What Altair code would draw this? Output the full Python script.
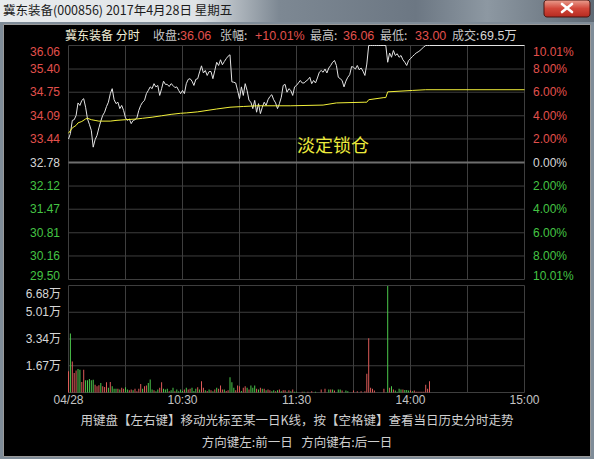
import altair as alt
import pandas as pd

# ---------------- session data: 冀东装备 (000856), 2017-04-28 ----------------
prev_close = 32.78

# last price, one value per trading minute from 09:30 (minute 0) to 14:10 (minute 190)
price = [
    33.44, 33.59, 33.96, 33.98, 34.10, 34.45, 34.38, 34.52, 34.57, 34.33,
    34.00, 33.85, 33.68, 33.21, 33.42, 33.54, 33.75, 33.94, 34.10, 34.19,
    34.35, 34.47, 34.71, 34.85, 34.54, 34.43, 34.47, 34.29, 34.38, 34.24,
    34.03, 33.96, 34.00, 33.87, 33.96, 33.98, 34.03, 34.24, 34.38, 34.47,
    34.52, 34.71, 34.80, 34.90, 34.85, 34.99, 34.90, 34.94, 34.66, 34.85,
    35.06, 34.97, 34.97, 34.91, 34.99, 34.94, 34.88, 34.90, 34.80, 34.71,
    34.80, 34.71, 34.99, 35.11, 35.13, 35.06, 34.94, 35.11, 35.13, 35.32,
    35.49, 35.29, 35.36, 35.22, 35.33, 35.33, 35.13, 35.36, 35.59, 35.50,
    35.66, 35.52, 35.61, 35.69, 35.76, 35.80, 35.04, 35.03, 35.01, 34.80,
    34.57, 34.90, 34.66, 34.99, 34.80, 34.52, 34.47, 34.29, 34.52, 34.19,
    34.43, 34.15, 34.33, 34.47, 34.38, 34.54, 34.63, 34.68, 34.54, 34.45,
    34.29, 34.43, 34.61, 34.94, 34.97, 34.75, 34.85, 34.80, 34.66, 34.90,
    34.94, 35.01, 35.08, 35.01, 35.01, 35.06, 35.10, 35.17, 34.99, 35.08,
    35.01, 35.15, 35.31, 35.36, 35.31, 35.40, 35.29, 35.43, 35.50, 35.59,
    35.64, 35.50, 35.17, 35.13, 35.08, 34.90, 35.06, 35.17, 35.24, 35.47,
    35.45, 35.40, 35.50, 35.38, 35.43, 35.34, 35.22, 35.54, 36.06, 36.06,
    36.06, 36.06, 36.06, 36.06, 36.06, 36.06, 36.06, 36.06, 35.59, 35.85,
    35.73, 35.92, 35.78, 35.83, 35.73, 35.78, 35.66, 35.59, 35.50, 35.64,
    35.69, 35.75, 35.80, 35.85, 35.88, 35.92, 35.97, 36.02, 36.06, 36.06,
    36.06,
]
close_minute = 240
close_price = 36.06

# volume-weighted average price (knots of the yellow line)
avg_minute = [0, 2, 4, 5, 7, 9, 10, 12, 14, 16, 22, 25, 30, 36, 39, 44, 49, 54,
              59, 62, 68, 78, 85, 92, 99, 117, 134, 141, 156, 157, 158, 166,
              167, 168, 181, 188, 240]
avg_price = [33.60, 33.75, 33.82, 33.89, 33.93, 34.00, 34.02, 33.98, 33.96,
             33.94, 33.94, 33.96, 33.98, 34.00, 34.02, 34.05, 34.09, 34.13,
             34.16, 34.17, 34.20, 34.28, 34.33, 34.35, 34.37, 34.37, 34.39,
             34.45, 34.47, 34.47, 34.54, 34.60, 34.60, 34.76, 34.80, 34.82,
             34.82]

# volume per minute, in 万 shares; side: r = uptick (red), g = downtick (green)
volume = [
    1.32, 3.69, 1.94, 1.22, 1.38, 1.46, 1.42, 0.66, 1.42, 0.76,
    0.76, 0.84, 0.76, 0.80, 0.49, 0.39, 0.45, 0.60, 0.39, 0.35,
    0.64, 0.29, 0.66, 0.39, 0.23, 0.23, 0.23, 0.19, 0.29, 0.23,
    0.33, 0.19, 0.14, 0.19, 0.14, 0.23, 0.08, 0.23, 0.53, 0.23,
    0.39, 0.43, 0.60, 0.81, 0.19, 0.14, 0.08, 0.19, 0.29, 0.64,
    0.23, 0.19, 0.23, 0.08, 0.14, 0.29, 0.08, 0.19, 0.08, 0.19,
    0.10, 0.19, 0.29, 0.19, 0.23, 0.29, 0.10, 0.23, 0.33, 0.19,
    0.70, 0.29, 0.14, 0.10, 0.19, 0.14, 0.08, 0.19, 0.29, 0.23,
    0.43, 0.19, 0.19, 0.10, 0.14, 0.95, 0.64, 0.29, 0.14, 0.43,
    0.39, 0.10, 0.29, 0.39, 0.29, 0.19, 0.43, 0.29, 0.43, 0.23,
    0.19, 0.29, 0.23, 0.23, 0.14, 0.19, 0.14, 0.08, 0.14, 0.08,
    0.14, 0.19, 0.08, 0.14, 0.14, 0.05, 0.14, 0.08, 0.19, 0.05,
    0.04, 0.00, 0.00, 0.04, 0.04, 0.00, 0.04, 0.00, 0.08, 0.00,
    0.04, 0.00, 0.00, 0.19, 0.00, 0.23, 0.00, 0.19, 0.19, 0.19,
    0.12, 0.00, 0.19, 0.19, 0.12, 0.00, 0.12, 0.08, 0.00, 0.00,
    0.12, 0.00, 0.08, 0.00, 0.08, 0.00, 0.08, 1.17, 3.38, 0.29,
    0.23, 0.12, 0.00, 0.00, 0.00, 0.00, 0.23, 0.00, 6.65, 0.29,
    0.39, 0.19, 0.12, 0.04, 0.23, 0.19, 0.19, 0.15, 0.15, 0.12,
    0.12, 0.08, 0.12, 0.04, 0.04, 0.04, 0.04, 0.04, 0.49, 0.23,
    0.70,
]
volume_side = (
    "rgrrrggrrg" "ggggrrrgrr" "rgrgggrgrr" "ggrrgrrrrg" "rrgggrggrr"
    "gggrggrggg" "grgrrgggrg" "rrgrgrgrgr" "rrgrrgggrr" "rgrrgrgggr"
    "grgrgrrggr" "grgrrgrgrg" "gggrggrrrr" "gggrrrrgrg" "rrggrrgggg"
    "rrrrrrrrrr" "rrrrrrrrgr" "grggggrggg" "rgrrrrrrrr" "r"
)

# axis ticks and their labels
price_ticks = [36.06, 35.40, 34.75, 34.09, 33.44, 32.78, 32.12, 31.47, 30.81, 30.16, 29.50]
pct_labels = ["10.01%", "8.00%", "6.00%", "4.00%", "2.00%", "0.00%",
              "2.00%", "4.00%", "6.00%", "8.00%", "10.01%"]
vol_ticks = [6.68, 5.01, 3.34, 1.67]
vol_labels = ["6.68万", "5.01万", "3.34万", "1.67万"]
grid_minutes = [0, 30, 60, 90, 120, 150, 180, 210, 240]
time_ticks = [0, 60, 120, 180, 240]
time_labels = ["04/28", "10:30", "11:30", "14:00", "15:00"]

window_title = "冀东装备(000856) 2017年4月28日 星期五"
header = [("冀东装备 分时", "name"), ("收盘:", "key"), ("36.06", "up"),
          ("张幅:", "key"), ("+10.01%", "up"), ("最高:", "key"), ("36.06", "up"),
          ("最低:", "key"), ("33.00", "up"), ("成交:", "key"), ("69.5万", "plain")]
note = "淡定锁仓"
hint_1 = "用键盘【左右键】移动光标至某一日K线，按【空格键】查看当日历史分时走势"
hint_2 = "方向键左:前一日\u00a0\u00a0\u00a0方向键右:后一日"

# ---------------- styling ----------------
RED = "#e2504c"
GREEN = "#44c444"
WHITE = "#d6d6d6"
GRID = "#3e3e3e"
NUM_FONT = "Arial, 'Liberation Sans', 'Noto Sans CJK SC', sans-serif"
CJK_FONT = "'Noto Sans CJK SC', 'Liberation Sans', sans-serif"
TEXT_COLORS = {"name": "#f2efd6", "key": "#c6c6c6", "up": RED, "plain": WHITE}

W, H = 594, 459
xs = alt.Scale(domain=[0, 240], range=[63.5, 529.5], nice=False, zero=False)
ps = alt.Scale(domain=[29.50, 36.06], range=[279.5, 45.5], nice=False, zero=False)
vs = alt.Scale(domain=[0, 6.68], range=[392.5, 285.5], nice=False, zero=False)

one = pd.DataFrame({"k": [0]})


def side_color(v):
    if v > prev_close + 1e-9:
        return RED
    if v < prev_close - 1e-9:
        return GREEN
    return WHITE


def box(x0, x1, y0, y1, **mark):
    return alt.Chart(one).mark_rect(**mark).encode(
        x=alt.value(x0), x2=alt.value(x1), y=alt.value(y0), y2=alt.value(y1))


def text_at(s, x, y, color, size=12, align="left", font=NUM_FONT, **kw):
    return alt.Chart(one).mark_text(
        text=s, align=align, baseline="middle", fontSize=size, font=font,
        color=color, **kw).encode(x=alt.value(x), y=alt.value(y))


layers = []

# ---- window frame ----
layers.append(box(0, W, 0, 22, color=alt.LinearGradient(
    gradient="linear", x1=0, x2=1, y1=0, y2=0,
    stops=[alt.GradientStop(color="#e9ecee", offset=0),
           alt.GradientStop(color="#dfe3e6", offset=0.33),
           alt.GradientStop(color="#7d8893", offset=0.47),
           alt.GradientStop(color="#6c7783", offset=0.7),
           alt.GradientStop(color="#8d98a2", offset=0.82),
           alt.GradientStop(color="#5f6a75", offset=1)])))
layers.append(box(544, 590, 0, 17, cornerRadius=3, stroke="#4a1510", strokeWidth=1,
                  color=alt.LinearGradient(
                      gradient="linear", x1=0, x2=0, y1=0, y2=1,
                      stops=[alt.GradientStop(color="#eaa090", offset=0),
                             alt.GradientStop(color="#d2473a", offset=0.5),
                             alt.GradientStop(color="#b52a20", offset=1)])))
for (a, b, c, d) in [(562, 572, 4, 12), (562, 572, 12, 4)]:
    layers.append(alt.Chart(one).mark_rule(color="white", strokeWidth=2.6, strokeCap="round")
                  .encode(x=alt.value(a), x2=alt.value(b), y=alt.value(c), y2=alt.value(d)))
layers.append(text_at(window_title, 3, 11, "#1c1c1c", size=12.5, font=CJK_FONT))
layers.append(box(3.5, 590.5, 24.5, 456.5, color="#000000", stroke="#9a9a9a", strokeWidth=1))

# ---- grid ----
pdf = pd.DataFrame({"v": price_ticks})
layers.append(alt.Chart(pdf).mark_rule(color=GRID, strokeWidth=1).encode(
    y=alt.Y("v:Q", scale=ps, axis=None),
    x=alt.X(datum=0, scale=xs, axis=None), x2=alt.X2(datum=240)))
gdf = pd.DataFrame({"m": grid_minutes})
layers.append(alt.Chart(gdf).mark_rule(color=GRID, strokeWidth=1).encode(
    x=alt.X("m:Q", scale=xs, axis=None),
    y=alt.Y(datum=price_ticks[0], scale=ps, axis=None), y2=alt.Y2(datum=price_ticks[-1])))
layers.append(alt.Chart(pd.DataFrame({"v": [prev_close]})).mark_rule(
    color="#6e6e6e", strokeWidth=2).encode(
    y=alt.Y("v:Q", scale=ps, axis=None),
    x=alt.X(datum=0, scale=xs, axis=None), x2=alt.X2(datum=240)))

vdf_grid = pd.DataFrame({"v": [0] + vol_ticks})
layers.append(alt.Chart(vdf_grid).mark_rule(color=GRID, strokeWidth=1).encode(
    y=alt.Y("v:Q", scale=vs, axis=None),
    x=alt.X(datum=0, scale=xs, axis=None), x2=alt.X2(datum=240)))
layers.append(alt.Chart(gdf).mark_rule(color=GRID, strokeWidth=1).encode(
    x=alt.X("m:Q", scale=xs, axis=None),
    y=alt.Y(datum=0, scale=vs, axis=None), y2=alt.Y2(datum=vol_ticks[0])))

# ---- volume bars ----
vol_df = pd.DataFrame({"m": list(range(len(volume))), "v": volume,
                       "c": ["#dc5a58" if s == "r" else "#4cc84c" for s in volume_side]})
layers.append(alt.Chart(vol_df).mark_bar(size=1).encode(
    x=alt.X("m:Q", scale=xs, axis=None),
    y=alt.Y("v:Q", scale=vs, axis=None),
    color=alt.Color("c:N", scale=None)))

# ---- price and average lines ----
price_df = pd.DataFrame({"m": list(range(len(price))) + [close_minute],
                         "p": price + [close_price]})
layers.append(alt.Chart(price_df).mark_line(color="#e4e4e4", strokeWidth=1).encode(
    x=alt.X("m:Q", scale=xs, axis=None), y=alt.Y("p:Q", scale=ps, axis=None)))
avg_df = pd.DataFrame({"m": avg_minute, "p": avg_price})
layers.append(alt.Chart(avg_df).mark_line(color="#f2f03a", strokeWidth=1).encode(
    x=alt.X("m:Q", scale=xs, axis=None), y=alt.Y("p:Q", scale=ps, axis=None)))

# ---- price axis labels (left: price, right: change) ----
lab_df = pd.DataFrame({
    "v": price_ticks,
    "t": [f"{v:.2f}" for v in price_ticks],
    "pct": pct_labels,
    "c": [side_color(v) for v in price_ticks],
    "i": list(range(len(price_ticks))),
})
last = len(price_ticks) - 1
for cond, dy in [(f"datum.i == 0", 6), (f"datum.i > 0 && datum.i < {last}", 0),
                 (f"datum.i == {last}", -4)]:
    base = alt.Chart(lab_df).transform_filter(cond)
    layers.append(base.mark_text(align="right", baseline="middle", fontSize=12,
                                 font=NUM_FONT, dy=dy).encode(
        x=alt.value(60), y=alt.Y("v:Q", scale=ps, axis=None),
        text="t:N", color=alt.Color("c:N", scale=None)))
    layers.append(base.mark_text(align="left", baseline="middle", fontSize=12,
                                 font=NUM_FONT, dy=dy).encode(
        x=alt.value(533), y=alt.Y("v:Q", scale=ps, axis=None),
        text="pct:N", color=alt.Color("c:N", scale=None)))

# ---- volume axis labels ----
vlab = pd.DataFrame({"v": vol_ticks, "t": vol_labels, "i": list(range(len(vol_ticks)))})
for cond, dy in [("datum.i == 0", 8), ("datum.i > 0", 0)]:
    layers.append(alt.Chart(vlab).transform_filter(cond).mark_text(
        align="right", baseline="middle", fontSize=12, font=NUM_FONT,
        color=WHITE, dy=dy).encode(
        x=alt.value(61), y=alt.Y("v:Q", scale=vs, axis=None), text="t:N"))

# ---- time axis labels ----
tlab = pd.DataFrame({"m": time_ticks, "t": time_labels})
layers.append(alt.Chart(tlab).mark_text(
    align="center", baseline="middle", fontSize=12, font=NUM_FONT, color="#c4c4c4").encode(
    x=alt.X("m:Q", scale=xs, axis=None), y=alt.value(400), text="t:N"))

# ---- header line ----
header_x = [65, 153, 180, 220, 255, 310, 343, 380, 415, 452, 480]
for (s, kind), hx in zip(header, header_x):
    font = CJK_FONT if kind in ("name", "key") else NUM_FONT
    size = 12 if kind in ("name", "key") else 12.5
    layers.append(text_at(s, hx, 36, TEXT_COLORS[kind], size=size, font=font))

layers.append(text_at(note, 333, 147, "#ecea3c", size=18, align="center", font=CJK_FONT))
layers.append(text_at(hint_1, 297, 421, "#cfcfcf", size=12.5, align="center", font=CJK_FONT))
layers.append(text_at(hint_2, 297, 443, "#cfcfcf", size=12.5, align="center", font=CJK_FONT))

chart = (
    alt.layer(*layers)
    .resolve_scale(y="independent", color="independent")
    .properties(width=W, height=H, padding=0,
                autosize=alt.AutoSizeParams(type="none"),
                background="#7f8c98")
    .configure_view(stroke=None)
)

chart.save("out.html", embed_options={"renderer": "svg", "actions": False})
